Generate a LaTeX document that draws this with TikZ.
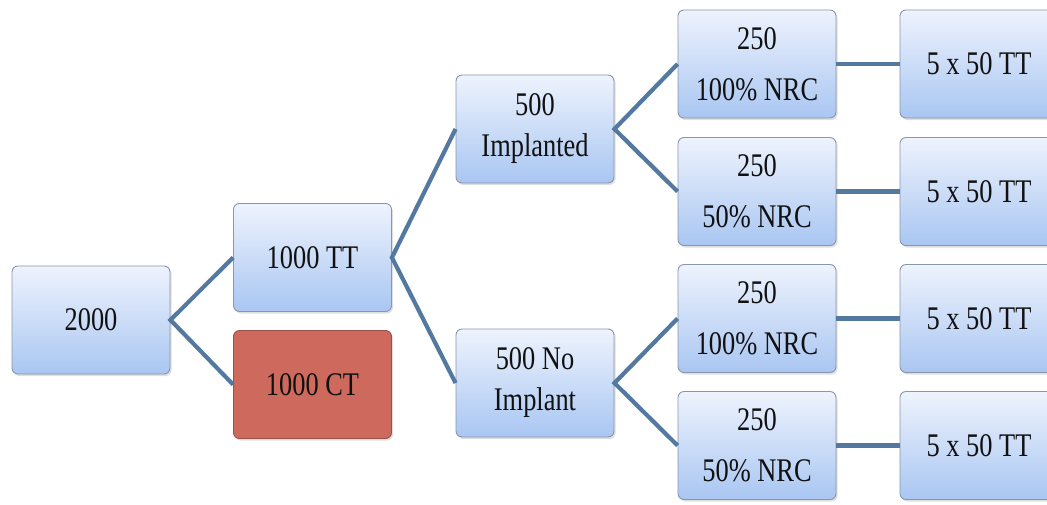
\documentclass[tikz,border=0pt]{standalone}
\usepackage{fontspec}
\setmainfont{Liberation Serif}[FakeStretch=0.8]
\usetikzlibrary{shadows}
\definecolor{linec}{HTML}{5479A0}
\definecolor{boxtop}{HTML}{EEF3FD}
\definecolor{boxbot}{HTML}{A9C6F2}
\definecolor{boxline}{HTML}{8797AC}
\definecolor{ctfill}{HTML}{CD6A5D}
\definecolor{ctline}{HTML}{9A5048}
\definecolor{txt}{HTML}{111111}
\tikzset{
  bx/.style={draw=boxline, line width=0.9pt, rounded corners=6pt, top color=boxtop, bottom color=boxbot,
    minimum width=158pt, minimum height=108pt, inner sep=0pt, align=center, text=txt,
    font=\fontsize{33pt}{41pt}\selectfont,
    drop shadow={shadow xshift=1.5pt, shadow yshift=-2pt, opacity=0.25}},
  ctbx/.style={bx, draw=ctline, top color=ctfill, bottom color=ctfill},
  conn/.style={draw=linec, line width=4.2pt}
}
\begin{document}
\begin{tikzpicture}[x=1pt,y=-1pt]
\useasboundingbox (0,0) rectangle (1047,504);
\clip (0,0) rectangle (1047,504);
\node[bx] (a) at (91,320) {2000};
\node[bx] (tt) at (312.5,257.5) {1000 TT};
\node[ctbx] (ct) at (312.5,384.5) {1000 CT};
\node[bx] (imp) at (535,129) {500\\Implanted};
\node[bx] (noimp) at (535,383) {500 No\\Implant};
\node[bx] (n1) at (757,64) {250\\[10pt]100\% NRC};
\node[bx] (n2) at (757,191.5) {250\\[10pt]50\% NRC};
\node[bx] (n3) at (757,318.5) {250\\[10pt]100\% NRC};
\node[bx] (n4) at (757,445.5) {250\\[10pt]50\% NRC};
\node[bx] (t1) at (979,64) {5 x 50 TT};
\node[bx] (t2) at (979,191.5) {5 x 50 TT};
\node[bx] (t3) at (979,318.5) {5 x 50 TT};
\node[bx] (t4) at (979,445.5) {5 x 50 TT};
\draw[conn] (tt.west) -- (a.east) -- (ct.west);
\draw[conn] (imp.west) -- (tt.east) -- (noimp.west);
\draw[conn] (n1.west) -- (imp.east) -- (n2.west);
\draw[conn] (n3.west) -- (noimp.east) -- (n4.west);
\draw[conn] (n1) -- (t1);
\draw[conn] (n2) -- (t2);
\draw[conn] (n3) -- (t3);
\draw[conn] (n4) -- (t4);
\end{tikzpicture}
\end{document}
